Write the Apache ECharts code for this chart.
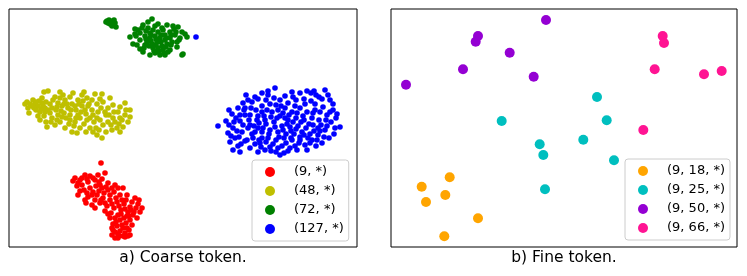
<!DOCTYPE html>
<html>
<head>
<meta charset="utf-8">
<script src="https://cdn.jsdelivr.net/npm/echarts@6/dist/echarts.min.js"></script>
<style>
  html, body { margin: 0; padding: 0; background: #fff; }
  #chart { width: 747px; height: 276px; }
</style>
</head>
<body>
<div id="chart"></div>
<script>
// t-SNE coordinates (arbitrary units, y grows downward)
const coarseNames = ['(9, *)', '(48, *)', '(72, *)', '(127, *)'];
const fineNames = ['(9, 18, *)', '(9, 25, *)', '(9, 50, *)', '(9, 66, *)'];
const captions = ['a) Coarse token.', 'b) Fine token.'];

const coarse9 = [
  [101,163],[73,181],[77,186],[80,191],[85,175],[90,176],[98,175],[105,173],[80,180],[88,182],
  [95,180],[102,179],[108,183],[115,185],[123,188],[127,195],[135,198],[142,208],[138,204],[137,218],
  [132,225],[130,235],[125,237],[118,238],[115,238],[112,228],[110,218],[105,211],[95,208],[92,205],
  [85,200],[78,195],[84,190],[90,188],[96,186],[102,188],[108,190],[114,192],[120,195],[97,195],
  [103,198],[110,200],[117,202],[124,204],[130,207],[100,203],[107,206],[114,208],[121,210],[128,212],
  [134,212],[118,215],[124,218],[130,220],[116,222],[122,225],[127,228],[115,232],[120,231],[125,233],
  [112,235],[92,195],[88,197],[118,188],[110,195],[126,200],[132,202],[82,185],[93,192],[104,193],
  [120,220],[136,208],[111,213],[126,223],[75,178],[99,182],[113,224],[129,216],[140,212],[119,236],
  [78,183],[82,178],[87,179],[93,178],[100,185],[106,187],[112,188],[99,191],[105,203],[112,204],
  [119,206],[125,209],[131,210],[108,214],[115,218],[121,214],[127,216],[133,215],[117,226],[123,228],
  [129,230],[113,230],[118,234],[123,236],[128,236],[87,193],[95,200],[101,200],[116,198],[122,200],
  [139,200],[86,203]
];
const coarse48 = [
  [25,104],[27,102],[33,100],[28,108],[29,113],[35,104],[38,106],[42,103],[46,102],[48,91],
  [44,92],[36,110],[40,112],[45,108],[50,104],[55,97],[60,98],[65,100],[73,93],[78,100],
  [72,104],[68,108],[62,106],[56,110],[50,113],[44,116],[40,120],[46,122],[47,127],[52,118],
  [58,115],[64,113],[70,115],[76,110],[82,106],[87,98],[84,92],[92,100],[97,104],[102,94],
  [103,102],[108,108],[113,105],[120,107],[125,103],[130,110],[130,117],[128,122],[123,127],[120,118],
  [113,118],[117,128],[112,130],[103,125],[102,138],[97,135],[90,128],[90,118],[120,132],[106,115],
  [98,112],[92,110],[86,114],[80,118],[75,122],[70,120],[65,128],[72,132],[77,133],[60,122],
  [55,125],[84,124],[80,128],[86,132],[94,122],[100,120],[108,122],[114,112],[95,94],[60,92],
  [66,118],[52,108],[78,115],[88,106],[110,98],[38,116],[32,106],[74,126],[64,104],[118,112],
  [125,115],[42,98],[58,103],[96,128],[106,132],[85,110],
  [30,104],[34,108],[39,101],[43,106],[48,110],[53,100],[57,107],[61,111],[67,104],[71,110],
  [75,106],[79,104],[83,101],[89,104],[93,115],[97,118],[101,108],[105,112],[109,115],[111,125],
  [115,122],[119,124],[122,120],[126,110],[99,130],[93,132],[87,120],[81,112],[76,118],[69,124],
  [62,117],[57,120],[51,122],[45,112],[41,109],[36,102],[70,97],[63,95],[82,95],[100,99]
];
const coarse72 = [
  [107,21],[109,20],[111,22],[113,21],[110,24],[114,25],[116,27],[112,26],[108,23],[115,23],
  [152,19],[143,25],[135,29],[130,37],[133,44],[137,45],[140,49],[143,52],[150,55],[155,53],
  [160,55],[165,55],[170,50],[177,47],[183,54],[182,55],[177,42],[187,37],[182,32],[178,27],
  [167,25],[158,24],[148,28],[153,30],[158,32],[163,30],[170,32],[175,35],[140,33],[145,36],
  [150,38],[155,36],[160,38],[165,40],[170,38],[147,42],[152,44],[157,42],[162,46],[167,44],
  [158,48],[163,50],[153,48],[140,40],[136,36],[172,42],[180,38],[150,33],[165,35],[155,26],
  [148,22],[162,28],[145,45],[168,52],[174,29],[138,30],[157,52],[185,34],
  [109,22],[112,23],[114,20],[106,22],[142,28],[146,31],[151,35],[156,39],[161,35],[166,38],
  [171,35],[176,32],[146,39],[151,41],[156,45],[161,42],[166,47],[171,45],[154,51],[159,51],
  [164,53],[149,46],[144,48],[135,34],[173,26],[179,40]
];
const coarse127 = [
  [275,88],[262,93],[268,95],[285,96],[292,92],[300,93],[307,91],[311,93],[316,95],[325,90],
  [322,99],[330,100],[333,104],[255,97],[248,100],[243,103],[238,108],[245,108],[252,102],[280,100],
  [288,103],[296,100],[304,99],[315,104],[258,99],[218,126],[229,110],[232,114],[236,118],[240,121],
  [233,128],[228,133],[235,138],[230,142],[238,146],[233,150],[240,152],[226,121],[245,115],[242,132],
  [340,127],[336,118],[330,112],[334,134],[329,138],[322,143],[333,110],[326,120],[318,128],[325,130],
  [280,155],[276,152],[284,153],[265,150],[258,152],[250,148],[245,141],[270,147],[290,148],[297,150],
  [305,145],[312,140],[316,146],[300,140],[255,144],[286,143],[262,138],[250,115],[256,110],[262,106],
  [270,104],[278,110],[285,108],[292,112],[300,108],[307,112],[312,118],[304,120],[296,118],[288,120],
  [280,116],[272,112],[264,116],[257,120],[250,125],[258,128],[266,124],[274,122],[282,126],[290,127],
  [298,126],[306,128],[313,125],[310,134],[302,132],[294,134],[286,134],[278,132],[270,130],[262,132],
  [252,134],[248,128],[268,138],[276,140],[284,138],[292,140],[300,137],[308,138],[318,135],[320,112],
  [277,118],[289,115],[262,112],[255,132],[271,117],[295,106],[283,130],[266,100],[259,123],[247,140],
  [273,144],[305,104],[319,120],[327,126],[243,125],[237,131],[315,110],[260,143],[282,146],[295,146],
  [244,110],[249,120],[253,138],[261,147],[267,110],[269,134],[275,127],[279,137],[281,106],[287,124],
  [291,131],[293,97],[297,113],[299,143],[303,116],[309,124],[311,101],[314,131],[317,140],[321,125],
  [323,107],[327,115],[331,122],[335,128],[337,114],[239,137],[234,122],[241,144],[251,108],[258,116],
  [263,128],[271,151],[278,148],[288,151],[293,122],[301,122],[307,150],[313,113],[319,97],[328,95],
  [246,95],[259,140],[265,120],[274,98],[283,113],[291,138],[296,129],[304,135],[310,143],[320,131],
  [285,118],[276,105],[266,142],[254,126],[240,115],[229,125],[231,136],[324,137],[314,91],[268,91],
  [196,37]
];

const fine18 = [[449.7,177.3],[421.7,186.7],[445.3,195],[426,202],[478,218.3],[444.3,236.3]];
const fine25 = [[501.7,121],[597,97],[606.7,120.3],[583.3,139.7],[539.7,144.3],[543.3,155],[614,160.3],[545,189.3]];
const fine50 = [[546,20],[478,36],[475.7,41.7],[509.7,52.7],[463,69.3],[533.7,76.7],[406,84.7]];
const fine66 = [[662.7,36],[664,43],[654.7,69.3],[704,74.3],[721.7,71],[643.3,130]];

const coarseColors = ['#ff0000', '#bfbf00', '#008000', '#0000ff'];
const fineColors = ['#ffa500', '#00bfbf', '#9400d3', '#ff1493'];

const chart = echarts.init(document.getElementById('chart'));

const mkSeries = (name, data, color, idx, size) => ({
    name: name,
    type: 'scatter',
    xAxisIndex: idx,
    yAxisIndex: idx,
    data: data,
    symbolSize: size,
    itemStyle: { color: color, opacity: 1 },
    silent: true
});

const coarseData = [coarse9, coarse48, coarse72, coarse127];
const fineData = [fine18, fine25, fine50, fine66];

let series = [];
for (let i = 0; i < 4; i++) {
    series.push(mkSeries(coarseNames[i], coarseData[i], coarseColors[i], 0, 5.6));
}
for (let i = 0; i < 4; i++) {
    series.push(mkSeries(fineNames[i], fineData[i], fineColors[i], 1, 10));
}

const legendBase = {
    orient: 'vertical',
    icon: 'circle',
    itemWidth: 10,
    itemHeight: 10,
    itemGap: 5,
    padding: [5, 5, 5, 13],
    borderColor: '#cccccc',
    borderWidth: 1,
    borderRadius: 3,
    backgroundColor: 'rgba(255,255,255,0.8)',
    selectedMode: false,
    textStyle: {
        fontFamily: 'DejaVu Sans',
        fontSize: 13,
        lineHeight: 14,
        color: '#000',
        padding: [0, 0, 0, 14]
    }
};

const captionStyle = (text) => ({
    text: text,
    textAlign: 'center',
    textVerticalAlign: 'middle',
    font: '15.5px "DejaVu Sans"',
    fill: '#000'
});

chart.setOption({
    animation: false,
    grid: [
        { left: 9, top: 9, width: 348, height: 238, show: true, borderColor: '#000', borderWidth: 1 },
        { left: 391, top: 9, width: 346, height: 238, show: true, borderColor: '#000', borderWidth: 1 }
    ],
    xAxis: [
        { type: 'value', gridIndex: 0, min: 9, max: 357, show: false },
        { type: 'value', gridIndex: 1, min: 391, max: 737, show: false }
    ],
    yAxis: [
        { type: 'value', gridIndex: 0, min: 9, max: 247, inverse: true, show: false },
        { type: 'value', gridIndex: 1, min: 9, max: 247, inverse: true, show: false }
    ],
    legend: [
        Object.assign({}, legendBase, { left: 252, top: 160, data: coarseNames }),
        Object.assign({}, legendBase, { left: 625, top: 159, data: fineNames })
    ],
    graphic: [
        { type: 'text', x: 183, y: 258, style: captionStyle(captions[0]) },
        { type: 'text', x: 564, y: 258, style: captionStyle(captions[1]) }
    ],
    series: series
});
</script>
</body>
</html>
